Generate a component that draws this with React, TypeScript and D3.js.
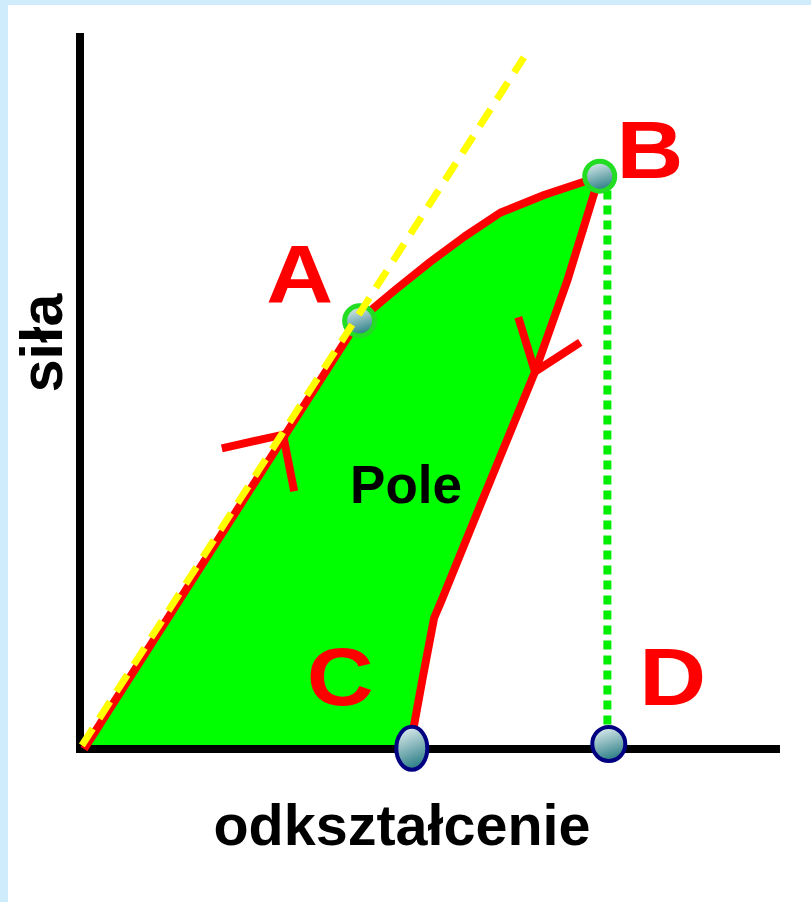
import React from "react";
import * as d3 from "d3";

// Loading curve (origin -> A -> B), data units
const loadX = [0, 39.4, 44.7, 49.7, 54.7, 59.8, 66.2, 72.7, 73.9];
const loadY = [0, 59.8, 64.1, 68.0, 71.6, 74.9, 77.4, 79.5, 79.7];
// Unloading curve (B -> C)
const unloadX = [73.9, 69.4, 64.8, 56.5, 51.4, 50.3, 48.6, 46.8];
const unloadY = [79.5, 65.3, 52.7, 33.0, 20.8, 18.3, 9.6, 0];
// Elastic (yellow dashed) line
const elasticX = [-0.3, 63.2];
const elasticY = [0.5, 96.6];
// Arrow marks [end1, junction, end2]
const arrowUpX = [19.8, 28.6, 30.2];
const arrowUpY = [42.0, 43.9, 36.0];
const arrowDownX = [62.4, 64.8, 71.3];
const arrowDownY = [60.3, 52.7, 56.8];
// Dotted projection from B down to D
const dropX = [75.2, 75.2];
const dropY = [78.0, 2.5];
// Marked points
const pointNames = ["A", "B", "C", "D"];
const pointX = [39.6, 74.1, 47.1, 75.4];
const pointY = [59.8, 80.0, 0.1, 0.7];
const labelNames = ["A", "B", "C", "D"];
const labelX = [31.0, 81.3, 36.8, 84.6];
const labelY = [62.4, 79.8, 6.2, 6.2];
const areaLabel = "Pole";
const xAxisLabel = "odkształcenie";
const yAxisLabel = "siła";

const W = 811;
const H = 902;

export default function App() {
  const x = d3.scaleLinear().domain([0, 100]).range([84, 780]);
  const y = d3.scaleLinear().domain([0, 100]).range([749, 33]);

  const load: [number, number][] = loadX.map((v, i) => [v, loadY[i]]);
  const unload: [number, number][] = unloadX.map((v, i) => [v, unloadY[i]]);
  const line = d3
    .line<[number, number]>()
    .x((d) => x(d[0]))
    .y((d) => y(d[1]));

  const poly: [number, number][] = [...load, ...unload, [0, 0]];
  const areaPath = line(poly) + "Z";

  const pts = (xs: number[], ys: number[]) =>
    xs.map((v, i) => [v, ys[i]] as [number, number]);

  const font = "'Liberation Sans', Arial, sans-serif";
  const ellip = [
    { rx: 15, ry: 15, stroke: "#22dd22", sw: 5 },
    { rx: 15, ry: 15, stroke: "#22dd22", sw: 5 },
    { rx: 15.5, ry: 21.5, stroke: "#000080", sw: 4 },
    { rx: 16.5, ry: 17, stroke: "#000080", sw: 4 },
  ];

  return (
    <svg
      width={W}
      height={H}
      style={{ position: "absolute", left: 0, top: 0, display: "block" }}
    >
      <defs>
        <linearGradient id="ball" x1="0.2" y1="0" x2="0.5" y2="1">
          <stop offset="0" stopColor="#e4f0f2" />
          <stop offset="1" stopColor="#2a7d85" />
        </linearGradient>
      </defs>
      <rect x={0} y={0} width={W} height={H} fill="#ffffff" />
      <rect x={0} y={0} width={W} height={5} fill="#cfecfd" />
      <rect x={0} y={0} width={8} height={H} fill="#cfecfd" />

      {/* filled area */}
      <path d={areaPath} fill="#00ff00" stroke="none" />

      {/* axes */}
      <line
        x1={x(0) - 4}
        x2={x(0) - 4}
        y1={y(100)}
        y2={y(0) + 4}
        stroke="#000"
        strokeWidth={8}
      />
      <line
        x1={x(0) - 8}
        x2={x(100)}
        y1={y(0)}
        y2={y(0)}
        stroke="#000"
        strokeWidth={8}
      />

      {/* red curves */}
      <path d={line(load) || ""} fill="none" stroke="#ff0000" strokeWidth={8} strokeLinejoin="round" />
      <path d={line(unload) || ""} fill="none" stroke="#ff0000" strokeWidth={8} strokeLinejoin="round" />
      <path d={line(pts(arrowUpX, arrowUpY)) || ""} fill="none" stroke="#ff0000" strokeWidth={8} strokeLinejoin="miter" />
      <path d={line(pts(arrowDownX, arrowDownY)) || ""} fill="none" stroke="#ff0000" strokeWidth={8} strokeLinejoin="miter" />

      {/* dotted drop line */}
      <path
        d={line(pts(dropX, dropY)) || ""}
        fill="none"
        stroke="#00ee00"
        strokeWidth={8}
        strokeDasharray="9 6"
      />

      {/* points */}
      {pointNames.map((n, i) => (
        <ellipse
          key={n}
          cx={x(pointX[i])}
          cy={y(pointY[i])}
          rx={ellip[i].rx}
          ry={ellip[i].ry}
          fill="url(#ball)"
          stroke={ellip[i].stroke}
          strokeWidth={ellip[i].sw}
        />
      ))}

      {/* yellow dashed line */}
      <path
        d={line(pts(elasticX, elasticY)) || ""}
        fill="none"
        stroke="#ffff00"
        strokeWidth={7}
        strokeDasharray="20 12"
      />

      {/* labels */}
      {labelNames.map((n, i) => (
        <text
          key={n}
          transform={`translate(${x(labelX[i])},${y(labelY[i])}) scale(1.13,1)`}
          textAnchor="middle"
          fontFamily={font}
          fontWeight="bold"
          fontSize={82}
          fill="#ff0000"
        >
          {n}
        </text>
      ))}
      <text
        x={406}
        y={503}
        textAnchor="middle"
        fontFamily={font}
        fontWeight="bold"
        fontSize={53}
        fill="#000"
      >
        {areaLabel}
      </text>
      <text
        x={402}
        y={845}
        textAnchor="middle"
        fontFamily={font}
        fontWeight="bold"
        fontSize={57.5}
        fill="#000"
      >
        {xAxisLabel}
      </text>
      <text
        transform="translate(62,343) rotate(-90)"
        textAnchor="middle"
        fontFamily={font}
        fontWeight="bold"
        fontSize={59}
        fill="#000"
      >
        {yAxisLabel}
      </text>
    </svg>
  );
}
